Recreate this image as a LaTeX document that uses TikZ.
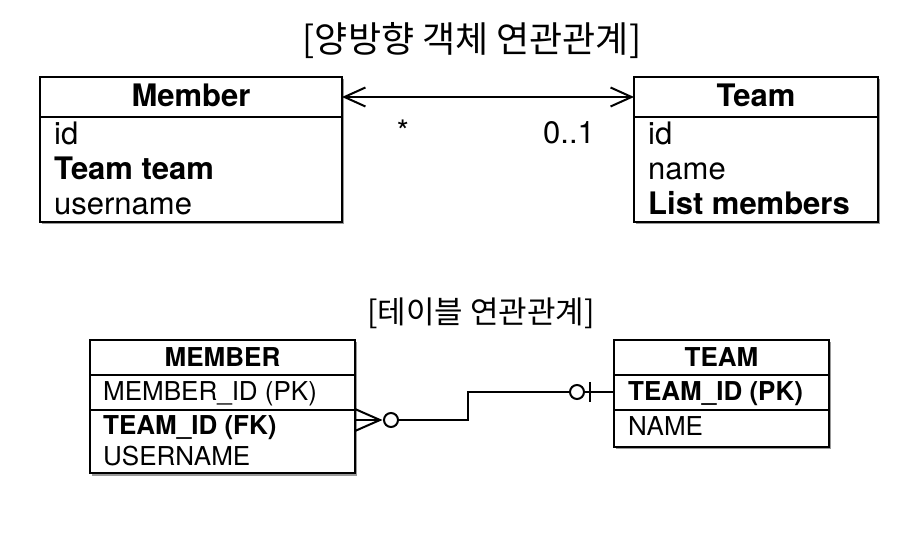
\documentclass[tikz,border=0pt]{standalone}
\usepackage{fontspec}
\setmainfont{TeX Gyre Heros}
\newfontfamily\krfont{Noto Sans CJK KR}
\usetikzlibrary{arrows.meta,shadows,calc}
\tikzset{
  boxshape/.style={draw, line width=2pt, fill=white, inner sep=0pt, outer sep=0pt,
    drop shadow={shadow xshift=2pt, shadow yshift=-2.5pt, opacity=0.4, fill=black}},
  part/.style={draw, line width=2pt, inner sep=0pt, outer sep=0pt},
  bigfont/.style={font=\fontsize{31}{34}\selectfont},
  erfont/.style={font=\fontsize{26}{30}\selectfont},
  rowtxt/.style={anchor=base west, inner sep=0pt},
  conn/.style={line width=2pt},
  endmark/.style={circle, draw, line width=2pt, fill=white, minimum size=14pt, inner sep=0pt},
  barb/.style={{Straight Barb[length=21pt,width=19pt]}-{Straight Barb[length=21pt,width=19pt]}},
}
\begin{document}
\begin{tikzpicture}[x=1pt,y=-1pt]
\useasboundingbox[fill=white] (0,0) rectangle (924,534);

% ---------- titles
\node[font=\krfont\fontsize{36}{40}\selectfont] (title1) at (472,41) {[양방향 객체 연관관계]};
\node[font=\krfont\fontsize{31}{34}\selectfont] (title2) at (481,313) {[테이블 연관관계]};

% ---------- object model
\node[boxshape, minimum width=302pt, minimum height=145pt] (member) at (191,149.5) {};
\node[part, minimum width=302pt, minimum height=40pt, bigfont] (memberhd) at (191,97) {};
\node[bigfont, anchor=base, inner sep=0pt] (memberttl) at (191,107) {\bfseries Member};
\node[rowtxt, bigfont] (m1) at (54,145) {id};
\node[rowtxt, bigfont] (m2) at (54,180) {\bfseries Team team};
\node[rowtxt, bigfont] (m3) at (54,215) {username};

\node[boxshape, minimum width=244pt, minimum height=145pt] (team) at (756,149.5) {};
\node[part, minimum width=244pt, minimum height=40pt] (teamhd) at (756,97) {};
\node[bigfont, anchor=base, inner sep=0pt] (teamttl) at (756,107) {\bfseries Team};
\node[rowtxt, bigfont] (t1) at (648,145) {id};
\node[rowtxt, bigfont] (t2) at (648,180) {name};
\node[rowtxt, bigfont] (t3) at (648,215) {\bfseries List members};

\draw[conn, barb] (memberhd.east) -- (teamhd.west);
\node[bigfont] (mult1) at (403,131) {*};
\node[bigfont] (mult2) at (569,133) {0..1};

% ---------- table model
\node[boxshape, minimum width=265pt, minimum height=133pt] (MEM) at (222.5,406.5) {};
\node[part, minimum width=265pt, minimum height=35pt] (MEMhd) at (222.5,357.5) {};
\node[part, minimum width=265pt, minimum height=35pt] (MEMpk) at (222.5,392.5) {};
\node[erfont, anchor=base, inner sep=0pt] (MEMttl) at (222.5,367) {\bfseries MEMBER};
\node[rowtxt, erfont] (r1) at (103,401) {MEMBER\_ID (PK)};
\node[rowtxt, erfont] (r2) at (103,435) {\bfseries TEAM\_ID (FK)};
\node[rowtxt, erfont] (r3) at (103,466) {USERNAME};

\node[boxshape, minimum width=215pt, minimum height=107pt] (TEA) at (721.5,393.5) {};
\node[part, minimum width=215pt, minimum height=35pt] (TEAhd) at (721.5,357.5) {};
\node[part, minimum width=215pt, minimum height=35pt] (TEApk) at (721.5,392.5) {};
\node[erfont, anchor=base, inner sep=0pt] (TEAttl) at (721.5,367) {\bfseries TEAM};
\node[rowtxt, erfont] (s1) at (628,401) {\bfseries TEAM\_ID (PK)};
\node[rowtxt, erfont] (s2) at (628,436) {NAME};

% connector
\coordinate (fk) at (MEM.east |- 0,420);
\coordinate (pk) at (TEA.west |- 0,392);
\coordinate (bend) at (468,0);
\draw[conn] ($(fk)+(0,-11)$) -- ($(fk)+(25,0)$) -- ($(fk)+(0,11)$);
\draw[conn] (fk) -- ($(fk)+(25,0)$);
\node[endmark] (c1) at ($(fk)+(36,0)$) {};
\node[endmark] (c2) at ($(pk)+(-37,0)$) {};
\draw[conn] (c1) -- (c1 -| bend) -- (bend |- c2) -- (c2);
\draw[conn] (c2) -- (pk);
\draw[conn] ($(pk)+(-24,-10)$) -- ($(pk)+(-24,10)$);
\end{tikzpicture}
\end{document}
